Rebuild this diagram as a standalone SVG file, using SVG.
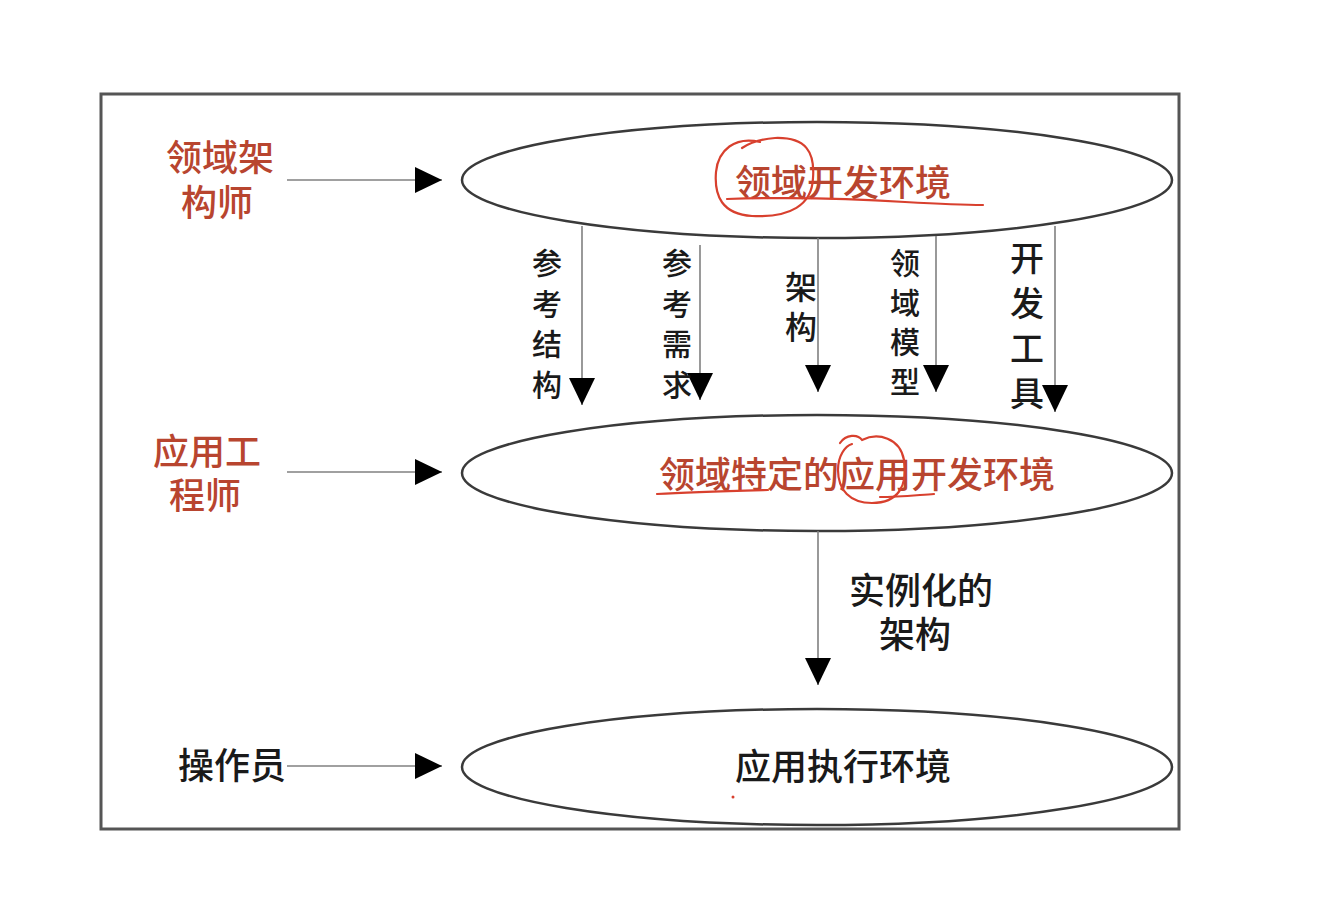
<svg xmlns="http://www.w3.org/2000/svg" width="1318" height="902" viewBox="0 0 1318 902">
<style>
.frame{fill:none;stroke:#555;stroke-width:3}
.ell{fill:#fff;stroke:#3a3a3a;stroke-width:2.5}
.conn{stroke:#808080;stroke-width:1.6;fill:none}
.t{font-family:"Noto Sans CJK SC","Noto Sans",sans-serif;text-anchor:middle;font-weight:500}
.v{font-family:"Noto Sans CJK SC","Noto Sans",sans-serif;font-weight:500;writing-mode:vertical-rl;text-anchor:start;fill:#1a1a1a}
.red{fill:#b8452f}
.blk{fill:#1a1a1a}
.pen{fill:none;stroke:#d8402e;stroke-width:2.2;stroke-linecap:round;stroke-linejoin:round}
</style>
<defs>
<marker id="ah" markerUnits="userSpaceOnUse" markerWidth="28" markerHeight="28" refX="27" refY="13" orient="auto" viewBox="0 0 28 26">
<path d="M0,0 L27,13 L0,26 Z" fill="#000"/>
</marker>
</defs>
<rect width="1318" height="902" fill="#fff"/>
<rect class="frame" x="101" y="94" width="1078" height="735"/>

<g id="node-domain-dev-env">
<ellipse class="ell" cx="817" cy="180" rx="355" ry="58"/>
<text class="t red" x="843" y="196" font-size="36">领域开发环境</text>
</g>
<g id="node-app-dev-env">
<ellipse class="ell" cx="817" cy="473" rx="355" ry="58"/>
<text class="t red" x="857" y="488" font-size="36">领域特定的应用开发环境</text>
</g>
<g id="node-app-exec-env">
<ellipse class="ell" cx="817" cy="767" rx="355" ry="58"/>
<text class="t blk" x="843" y="780" font-size="36">应用执行环境</text>
</g>

<g id="actor-domain-architect">
<text class="t red" x="220" y="171" font-size="36">领域架</text>
<text class="t red" x="217" y="216" font-size="36">构师</text>
</g>
<g id="actor-app-engineer">
<text class="t red" x="207" y="465" font-size="36">应用工</text>
<text class="t red" x="205" y="509" font-size="36">程师</text>
</g>
<g id="actor-operator">
<text class="t blk" x="232" y="779" font-size="36">操作员</text>
</g>

<g id="connectors">
<line class="conn" x1="287" y1="180" x2="442" y2="180" marker-end="url(#ah)"/>
<line class="conn" x1="287" y1="472" x2="442" y2="472" marker-end="url(#ah)"/>
<line class="conn" x1="287" y1="766" x2="442" y2="766" marker-end="url(#ah)"/>
<line class="conn" x1="582" y1="226" x2="582" y2="405" marker-end="url(#ah)"/>
<line class="conn" x1="700" y1="245" x2="700" y2="400" marker-end="url(#ah)"/>
<line class="conn" x1="818" y1="238" x2="818" y2="392" marker-end="url(#ah)"/>
<line class="conn" x1="936" y1="236" x2="936" y2="392" marker-end="url(#ah)"/>
<line class="conn" x1="1055" y1="226" x2="1055" y2="412" marker-end="url(#ah)"/>
<line class="conn" x1="818" y1="531" x2="818" y2="685" marker-end="url(#ah)"/>
</g>

<g id="connector-labels">
<text class="v" x="547" y="248" font-size="30" letter-spacing="10.5">参考结构</text>
<text class="v" x="677" y="248" font-size="30" letter-spacing="10.5">参考需求</text>
<text class="v" x="801" y="271" font-size="32" letter-spacing="8">架构</text>
<text class="v" x="905" y="248" font-size="30" letter-spacing="9.5">领域模型</text>
<text class="v" x="1027" y="241" font-size="34" letter-spacing="11">开发工具</text>
<text class="t blk" x="921" y="604" font-size="36">实例化的</text>
<text class="t blk" x="915" y="648" font-size="36">架构</text>
</g>

<g id="annotations">
<path class="pen" d="M760,142 C735,136 718,150 716,172 C714,196 722,214 752,216 C790,218 812,205 813,178 C815,152 806,137 775,138 C760,139 748,144 742,148"/>
<path class="pen" d="M727,199 C790,197 860,199 905,202 C940,204 965,205 983,205"/>
<path class="pen" d="M657,494 C690,492 730,491 768,490"/>
<path class="pen" d="M840,443 C846,434 858,434 862,440 C878,432 900,438 904,460 C908,486 898,503 872,503 C850,503 838,490 838,470 C838,456 845,446 852,444"/>
<path class="pen" d="M880,497 C898,497 918,495 934,494"/>
<circle cx="733" cy="797" r="1.5" fill="#d8402e"/>
</g>
</svg>
